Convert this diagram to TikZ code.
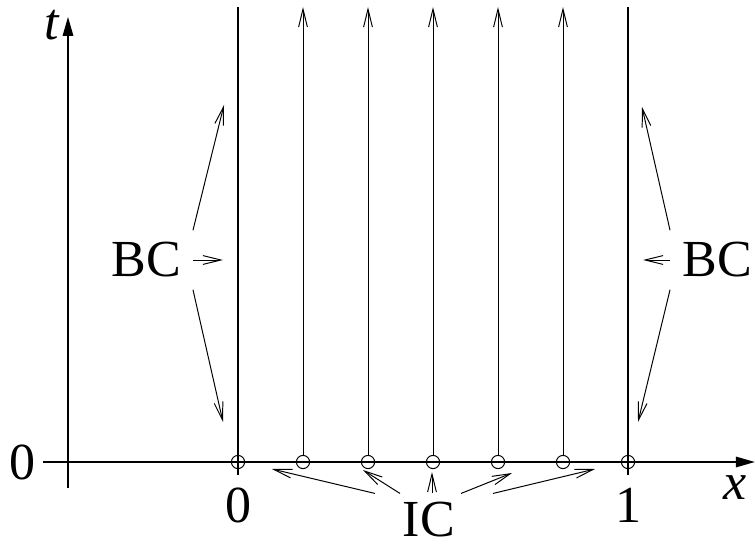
\documentclass[tikz,border=0pt]{standalone}
\usepackage{fontspec}
\setmainfont{Liberation Serif}
\usetikzlibrary{arrows.meta,positioning}

\begin{document}
\begin{tikzpicture}[>={Straight Barb[length=0.45cm,width=0.22cm]},
    axis/.style={line width=1.4pt,-{Triangle[length=0.48cm,width=0.26cm]}},
    wall/.style={line width=1.4pt},
    flow/.style={line width=0.7pt,->},
    pointer/.style={line width=0.7pt,->},
    ring/.style={draw,circle,line width=0.7pt,minimum size=0.33cm,inner sep=0pt},
    lbl/.style={font=\fontsize{37}{40}\selectfont,inner sep=0pt}]
  \useasboundingbox (0,0) rectangle (18.875,13.7);
  % Axes.
  \coordinate (xs) at (1.075,2.15);
  \coordinate (xe) at (18.875,2.15);
  \coordinate (ts) at (1.7,1.5);
  \coordinate (te) at (1.7,13.28);
  \draw[axis] (xs) -- (xe);
  \draw[axis] (ts) -- (te);
  \node[lbl] (tl) at (1.3,13.075) {\textit{t}};
  \node[lbl] (xl) at (18.375,1.5) {\textit{x}};
  \node[lbl] (zt) at (0.575,2.15) {0};
  % Grid points on the x axis, 0 to 1.
  \coordinate (bot) at (0,1.825);
  \coordinate (top) at (0,13.525);
  \foreach \i in {0,...,6}
    \node[ring] (c\i) at ({5.95+1.625*\i},2.15) {};
  \draw[wall] (c0 |- bot) -- (c0 |- top);
  \draw[wall] (c6 |- bot) -- (c6 |- top);
  \foreach \i in {1,...,5}
    \draw[flow] (c\i) -- (c\i |- top);
  \node[lbl] (zx) at (5.975,1.075) {0};
  \node[lbl] (one) at (15.7,1.075) {1};
  % Boundary conditions.
  \node[lbl,inner sep=0.3cm] (bcl) at (3.65,7.2) {BC};
  \node[lbl,inner sep=0.3cm] (bcr) at (17.925,7.2) {BC};
  \coordinate (bl1) at (5.6,11.075);
  \coordinate (bl2) at (5.575,7.2);
  \coordinate (bl3) at (5.575,3.15);
  \coordinate (br1) at (16.05,11.025);
  \coordinate (br2) at (16.075,7.2);
  \coordinate (br3) at (15.95,3.15);
  \draw[pointer] (bcl.north east) -- (bl1);
  \draw[pointer] (bcl.east) -- (bl2);
  \draw[pointer] (bcl.south east) -- (bl3);
  \draw[pointer] (bcr.north west) -- (br1);
  \draw[pointer] (bcr.west) -- (br2);
  \draw[pointer] (bcr.south west) -- (br3);
  % Initial condition.
  \node[lbl,inner sep=0.2cm] (ic) at (10.725,0.72) {IC};
  \coordinate (ia) at (6.8,1.975);
  \coordinate (ib) at (9.075,1.95);
  \coordinate (ix) at (10.8,1.9);
  \coordinate (id) at (12.8,1.875);
  \coordinate (ie) at (14.875,1.975);
  \draw[pointer] ([xshift=-1.35cm]ic.north) -- (ia);
  \draw[pointer] ([xshift=-0.725cm]ic.north) -- (ib);
  \draw[pointer] ([xshift=0.075cm]ic.north) -- (ix);
  \draw[pointer] ([xshift=0.8cm]ic.north) -- (id);
  \draw[pointer] ([xshift=1.6cm]ic.north) -- (ie);
\end{tikzpicture}
\end{document}
